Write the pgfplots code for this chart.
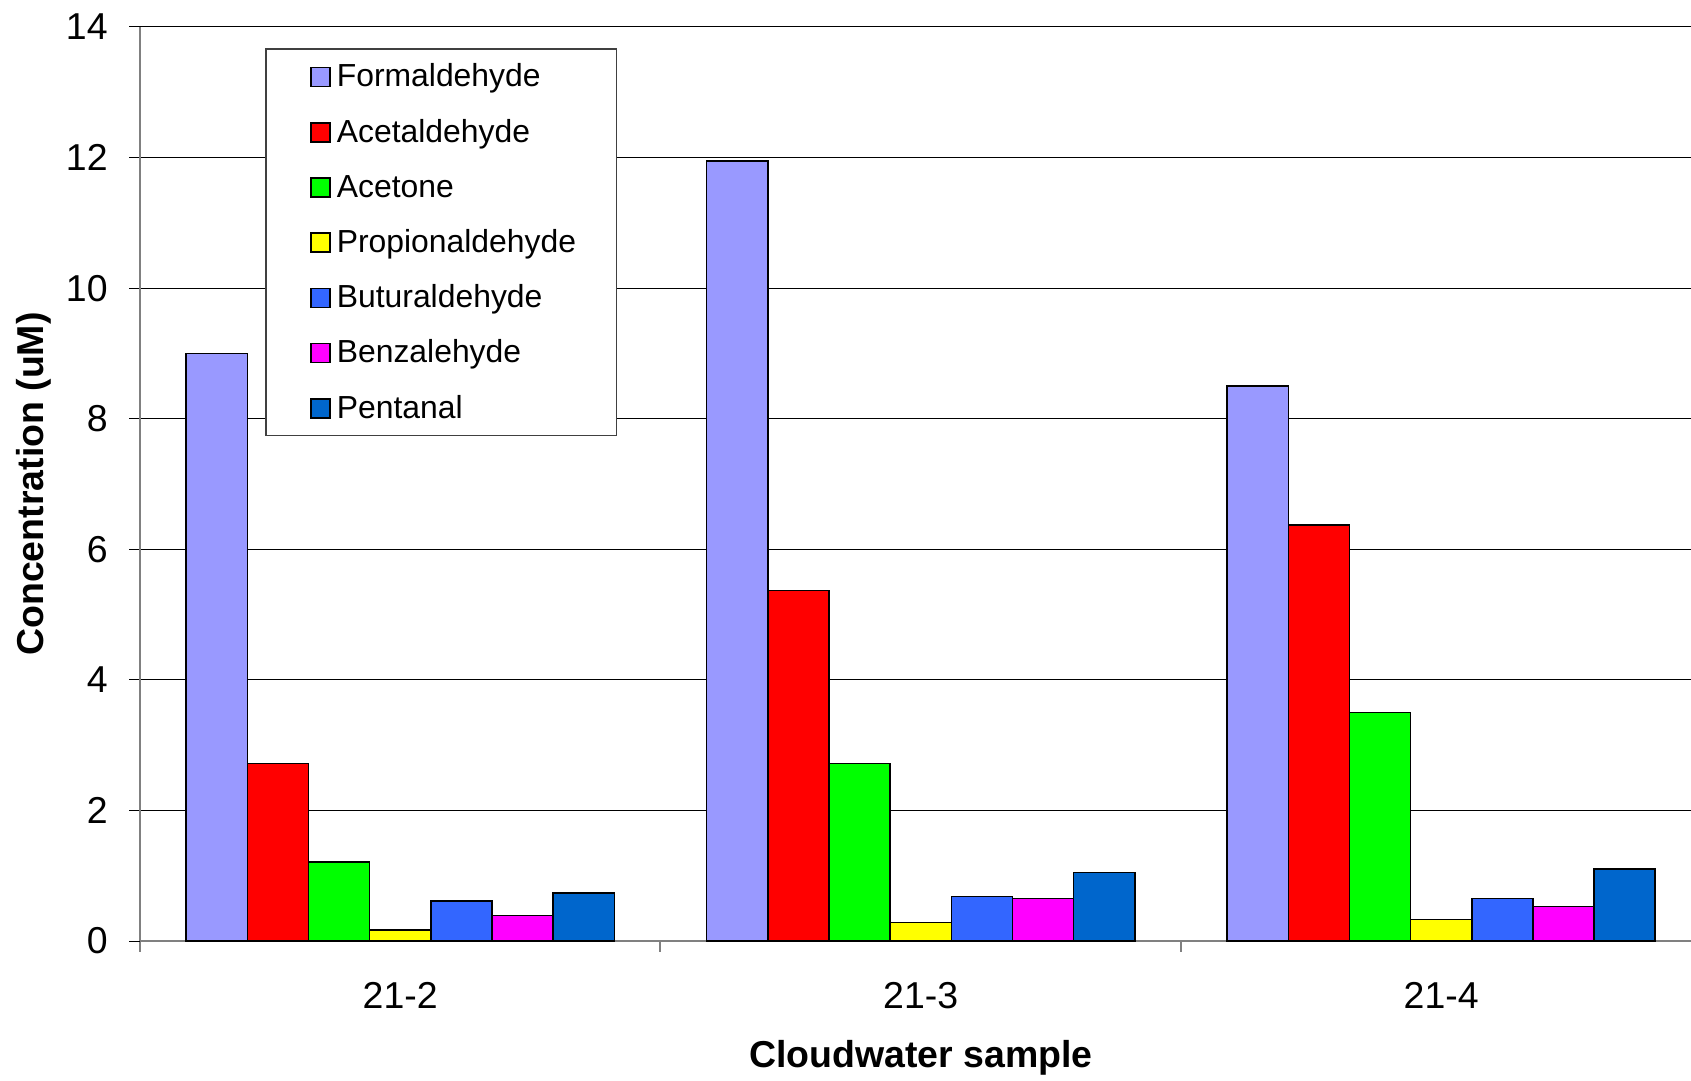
\documentclass[border=0pt]{standalone}
\usepackage{fontspec}
\setmainfont{Liberation Sans}
\usepackage{pgfplots}
\pgfplotsset{compat=1.18}

\definecolor{cForm}{HTML}{9999FF}
\definecolor{cAcet}{HTML}{FF0000}
\definecolor{cAcetone}{HTML}{00FF00}
\definecolor{cProp}{HTML}{FFFF00}
\definecolor{cButu}{HTML}{3366FF}
\definecolor{cBenz}{HTML}{FF00FF}
\definecolor{cPent}{HTML}{0066CC}

% legend text cell: fixed width, same height and depth as the legend image
\newcommand{\entry}[1]{\raisebox{0pt}[18.95bp][8.35bp]{\makebox[140bp][l]{#1}}}

\begin{document}
\begin{tikzpicture}
\begin{axis}[
  at={(0,0)}, anchor=south west,
  scale only axis, width=775.5bp, height=457bp,
  ybar=0pt, bar width=0.1175,
  xmin=-0.5, xmax=2.48, ymin=0, ymax=14,
  xtick={0,1,2}, xticklabels={21-2,21-3,21-4},
  minor xtick={-0.5,0.5,1.5},
  ytick={0,2,...,14},
  axis x line=bottom, axis y line=left,
  axis line style={-, draw=gray, line width=1bp},
  tick align=outside,
  major tick length=5.4bp, minor tick length=5.4bp,
  major x tick style={draw=none},
  minor x tick style={draw=gray, line width=1bp},
  major y tick style={draw=black, line width=0.5bp},
  ymajorgrids, major grid style={black, line width=0.5bp},
  tick label style={font=\fontsize{18.8}{22}\selectfont},
  /pgf/number format/assume math mode=true,
  yticklabel style={anchor=east, inner sep=0pt, xshift=-10.6bp},
  xticklabel style={anchor=base, inner sep=0pt, yshift=-28.4bp},
  xlabel={\bfseries Cloudwater sample},
  ylabel={\bfseries Concentration (uM)},
  label style={font=\fontsize{18.8}{22}\selectfont},
  xlabel style={at={(axis description cs:0.5034,0)}, anchor=base, inner sep=0pt, yshift=-63.3bp},
  ylabel style={at={(axis description cs:0,0.5)}, anchor=center, inner sep=0pt, yshift=53.3bp},
  legend image code/.code={
    \path[draw=none, fill=none] (0bp,-13.95bp) rectangle (0bp,13.35bp);
    \draw[#1, draw=black, line width=0.75bp] (22.5bp,-5.1bp) rectangle (32bp,4.4bp);
  },
  legend cell align=left,
  legend style={
    at={(axis description cs:0.0809,0.9765)}, anchor=north west,
    draw=black!75, line width=0.6bp, fill=white,
    inner sep=0pt, row sep=0pt, column sep=3bp,
    nodes={inner sep=0pt, text depth=, text height=},
    font=\fontsize{16}{19}\selectfont,
  },
  every axis plot/.append style={draw=black, line width=0.75bp},
]
\addplot[fill=cForm]    coordinates {(0,9.00) (1,11.95) (2,8.50)};
\addplot[fill=cAcet]    coordinates {(0,2.72) (1,5.37) (2,6.37)};
\addplot[fill=cAcetone] coordinates {(0,1.21) (1,2.72) (2,3.50)};
\addplot[fill=cProp]    coordinates {(0,0.17) (1,0.28) (2,0.33)};
\addplot[fill=cButu]    coordinates {(0,0.61) (1,0.68) (2,0.65)};
\addplot[fill=cBenz]    coordinates {(0,0.39) (1,0.65) (2,0.53)};
\addplot[fill=cPent]    coordinates {(0,0.735) (1,1.05) (2,1.10)};
\legend{\entry{Formaldehyde},\entry{Acetaldehyde},\entry{Acetone},\entry{Propionaldehyde},\entry{Buturaldehyde},\entry{Benzalehyde},\entry{Pentanal}}
\end{axis}
\pgfresetboundingbox
\useasboundingbox (-70bp,-70bp) rectangle (775.5bp,470.5bp);
\end{tikzpicture}
\end{document}
